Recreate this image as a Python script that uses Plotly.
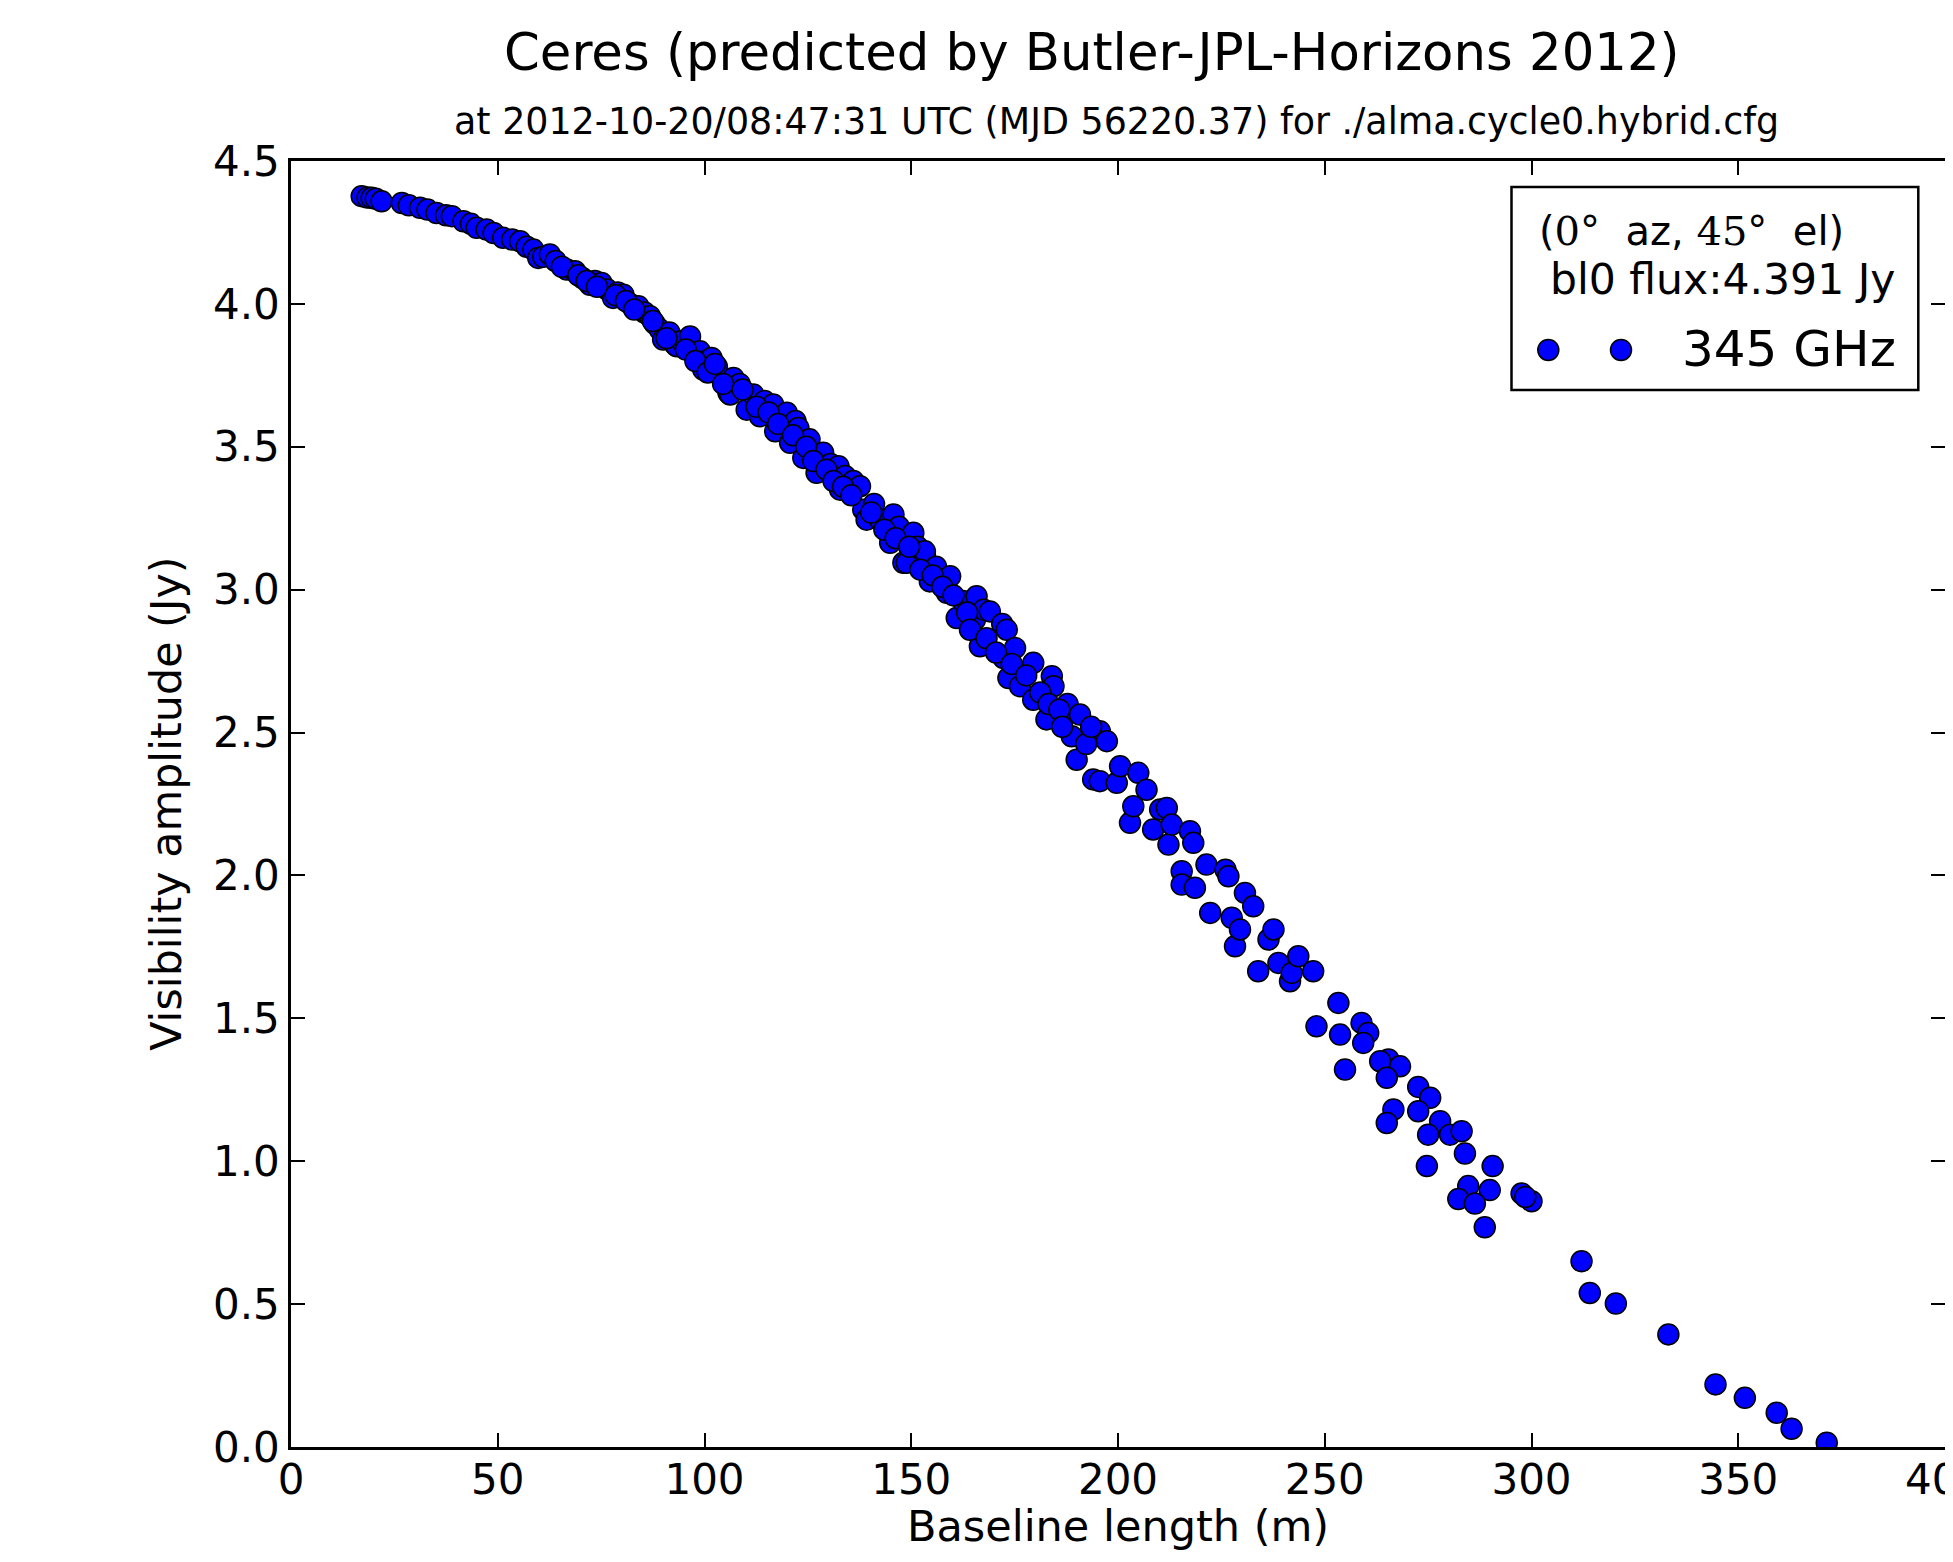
import plotly.graph_objects as go

# Baseline length (m)
baseline_m = [
    17.1, 18.5, 19.5, 20.5, 21.9, 26.8, 28.5, 31.2, 33.0, 35.2, 37.5, 38.9, 41.7, 43.5, 44.9, 47.3,
    49.0, 51.3, 53.5, 55.4, 57.0, 58.6, 59.8, 61.0, 62.6, 66.7, 68.7, 70.5, 72.3, 73.5, 75.1, 76.5,
    77.9, 79.0, 80.4, 82.0, 84.0, 85.5, 86.8, 88.0, 89.2, 90.0, 91.5, 92.9, 93.3, 94.5, 96.5, 97.3,
    98.9, 99.7, 100.5, 101.7, 103.0, 105.8, 106.2, 107.0, 108.5, 110.2, 111.8, 113.4, 114.5, 116.6,
    117.1, 118.5, 119.9, 120.7, 122.0, 122.7, 123.9, 125.4, 127.1, 128.7, 130.5, 132.4, 132.8, 134.0,
    136.0, 137.6, 138.4, 139.2, 141.0, 142.4, 144.9, 145.7, 147.0, 148.1, 148.9, 150.5, 151.5, 153.3,
    153.3, 154.5, 156.0, 158.6, 159.4, 161.0, 162.5, 165.4, 165.8, 166.6, 167.5, 169.0, 172.0, 172.3,
    173.1, 173.5, 175.1, 176.3, 179.5, 179.5, 182.7, 184.0, 184.4, 187.6, 187.8, 188.8, 190.0, 190.8,
    194.0, 195.6, 195.6, 197.3, 199.7, 200.5, 202.9, 203.7, 204.9, 206.9, 208.5, 210.2, 211.8, 212.2,
    213.0, 215.4, 215.4, 217.4, 218.2, 218.6, 221.4, 222.3, 226.0, 226.7, 227.5, 228.3, 229.5, 230.7,
    232.7, 233.9, 236.4, 237.6, 238.8, 241.6, 242.0, 243.6, 247.2, 248.0,
    253.3, 253.7, 258.9, 260.5, 259.3, 254.9, 265.4, 268.2, 263.4, 265.0, 272.6, 275.5, 266.6, 265.0,
    272.6, 277.9, 275.0, 280.3, 283.1, 283.9, 274.7, 290.6, 284.7, 282.3, 289.9, 286.3, 288.7, 297.6,
    300.0, 298.5,
    312.1, 314.1, 320.4, 333.1, 344.5, 351.6, 359.3, 362.9, 371.4,
    # denser band (overlapping baselines)
    64.0, 65.5, 69.5, 71.5, 74.0, 78.5, 81.0, 83.0, 87.5, 90.8, 95.5, 97.8, 100.8, 102.5, 104.5,
    109.2, 112.6, 115.5, 117.8, 121.4, 124.6, 126.3, 129.5, 131.2, 133.5, 135.5, 140.3, 143.5,
    146.2, 149.5, 152.2, 155.2, 157.5, 160.2, 163.5, 164.2, 168.2, 170.5, 174.3, 177.8, 181.2,
    183.2, 185.8, 186.5, 192.3, 193.5,
]

# Visibility amplitude (Jy)
amplitude_jy = [
    4.377, 4.372, 4.371, 4.368, 4.359, 4.353, 4.345, 4.336, 4.330, 4.318, 4.310, 4.307, 4.289, 4.280, 4.266, 4.260,
    4.248, 4.231, 4.225, 4.219, 4.200, 4.190, 4.161, 4.165, 4.173, 4.120, 4.114, 4.090, 4.067, 4.080, 4.073, 4.050,
    4.021, 4.040, 4.032, 4.000, 3.992, 3.970, 3.957, 3.930, 3.910, 3.875, 3.900, 3.857, 3.852, 3.870, 3.886, 3.829,
    3.834, 3.770, 3.800, 3.811, 3.780, 3.689, 3.683, 3.741, 3.720, 3.630, 3.683, 3.607, 3.660, 3.648,
    3.554, 3.600, 3.619, 3.514, 3.590, 3.566, 3.461, 3.526, 3.409, 3.479, 3.440, 3.432, 3.350, 3.398,
    3.380, 3.362, 3.280, 3.245, 3.300, 3.245, 3.164, 3.263, 3.220, 3.094, 3.094, 3.199, 3.150, 3.123,
    3.134, 3.029, 3.080, 2.989, 3.047, 2.901, 2.960, 2.895, 2.977, 2.802, 2.930, 2.924, 2.880, 2.761,
    2.860, 2.691, 2.796, 2.662, 2.744, 2.615, 2.546, 2.697, 2.662, 2.563, 2.600, 2.487, 2.405, 2.563,
    2.336, 2.505, 2.330, 2.470, 2.324, 2.382, 2.184, 2.242, 2.359, 2.300, 2.161, 2.231, 2.236, 2.108,
    2.178, 2.015, 1.968, 2.155, 2.114, 1.957, 2.038, 1.869, 2.020, 1.997, 1.852, 1.752, 1.811, 1.939,
    1.892, 1.665, 1.776, 1.811, 1.694, 1.630, 1.659, 1.717, 1.665, 1.472,
    1.554, 1.443, 1.484, 1.449, 1.414, 1.321, 1.356, 1.332, 1.350, 1.292, 1.260, 1.222, 1.181, 1.134,
    1.175, 1.140, 1.093, 1.093, 1.105, 1.027, 0.983, 0.983, 0.913, 0.868, 0.899, 0.852, 0.769, 0.887,
    0.860, 0.875,
    0.650, 0.539, 0.502, 0.394, 0.219, 0.172, 0.120, 0.064, 0.015,
    4.150, 4.130, 4.100, 4.080, 4.060, 4.030, 4.010, 3.980, 3.940, 3.880, 3.840, 3.800, 3.760, 3.790, 3.720,
    3.700, 3.640, 3.620, 3.580, 3.540, 3.500, 3.450, 3.420, 3.380, 3.360, 3.330, 3.270, 3.210,
    3.180, 3.150, 3.070, 3.050, 3.010, 2.980, 2.920, 2.860, 2.830, 2.780, 2.740, 2.700, 2.640,
    2.600, 2.580, 2.520, 2.460, 2.520,
]

x_ticks = [0, 50, 100, 150, 200, 250, 300, 350, 400]
y_ticks = [0.0, 0.5, 1.0, 1.5, 2.0, 2.5, 3.0, 3.5, 4.0, 4.5]
y_tick_labels = [f"{v:.1f}" for v in y_ticks]

title_text = "Ceres (predicted by Butler-JPL-Horizons 2012)"
subtitle_text = "at 2012-10-20/08:47:31 UTC (MJD 56220.37) for ./alma.cycle0.hybrid.cfg"
x_title = "Baseline length (m)"
y_title = "Visibility amplitude (Jy)"
legend_line1 = ("(<span style='font-family:DejaVu Serif'>0</span>°\u00a0\u00a0az, "
                "<span style='font-family:DejaVu Serif'>45</span>°\u00a0\u00a0el)")
legend_line2 = "bl0 flux:4.391 Jy"
series_name = "345 GHz"

FONT = "DejaVu Sans"
BLUE = "#0000ff"

fig = go.Figure()
fig.add_trace(go.Scatter(
    x=baseline_m, y=amplitude_jy, mode="markers", name=series_name,
    marker=dict(size=21, color=BLUE, line=dict(color="black", width=1.5)),
    showlegend=False,
))

axis_common = dict(
    showgrid=False, zeroline=False, showline=True, linecolor="black", linewidth=2.5,
    mirror="ticks", ticks="inside", ticklen=14, tickwidth=1.5, tickcolor="black",
    tickfont=dict(family=FONT, size=42, color="black"), automargin=False,
)

# page body has an 8px margin: plot area in page pixels is x 291..1945, y 161..1447.5
fig.update_layout(
    width=1945, height=1554,
    margin=dict(l=283, r=8, t=153, b=114.5),
    paper_bgcolor="white", plot_bgcolor="white",
    font=dict(family=FONT, color="black"),
    xaxis=dict(range=[0, 400], tickvals=x_ticks, ticktext=[str(v) for v in x_ticks],
               ticklabelstandoff=-6, ticklabeloverflow="allow", **axis_common),
    yaxis=dict(range=[0, 4.5], tickvals=y_ticks, ticktext=y_tick_labels,
               ticklabelstandoff=0, **axis_common),
    showlegend=False,
)

ann = []
def px_x(px):
    return (px - 291) / 1654.0
def px_y(py):
    return (1447.5 - py) / 1286.5

ann.append(dict(text=title_text, x=px_x(1092), y=px_y(52), xref="paper", yref="paper",
                xanchor="center", yanchor="middle", showarrow=False,
                font=dict(family=FONT, size=51.3, color="black")))
ann.append(dict(text=subtitle_text, x=px_x(1116), y=px_y(121), xref="paper", yref="paper",
                xanchor="center", yanchor="middle", showarrow=False,
                font=dict(family=FONT, size=36.4, color="black")))
ann.append(dict(text=x_title, x=px_x(1118), y=px_y(1527), xref="paper", yref="paper",
                xanchor="center", yanchor="middle", showarrow=False,
                font=dict(family=FONT, size=43, color="black")))
ann.append(dict(text=y_title, x=px_x(166), y=px_y(804), xref="paper", yref="paper",
                xanchor="center", yanchor="middle", showarrow=False, textangle=-90,
                font=dict(family=FONT, size=42.8, color="black")))
# legend texts
ann.append(dict(text=legend_line1, x=px_x(1537), y=px_y(231), xref="paper", yref="paper",
                xanchor="left", yanchor="middle", showarrow=False,
                font=dict(family=FONT, size=40, color="black")))
ann.append(dict(text=legend_line2, x=px_x(1548), y=px_y(280), xref="paper", yref="paper",
                xanchor="left", yanchor="middle", showarrow=False,
                font=dict(family=FONT, size=42.5, color="black")))
ann.append(dict(text=series_name, x=px_x(1680), y=px_y(349), xref="paper", yref="paper",
                xanchor="left", yanchor="middle", showarrow=False,
                font=dict(family=FONT, size=50, color="black")))
fig.update_layout(annotations=ann)

shapes = [dict(type="rect", xref="paper", yref="paper",
               x0=px_x(1511.5), x1=px_x(1918.3), y0=px_y(390), y1=px_y(187),
               line=dict(color="black", width=2.5), fillcolor="white", layer="above")]
for cx in (1548.3, 1621.0):
    shapes.append(dict(type="circle", xref="paper", yref="paper",
                       xsizemode="pixel", ysizemode="pixel",
                       xanchor=px_x(cx), yanchor=px_y(350),
                       x0=-10.5, x1=10.5, y0=-10.5, y1=10.5,
                       line=dict(color="black", width=1.5), fillcolor=BLUE, layer="above"))
fig.update_layout(shapes=shapes)

fig.write_html("out.html")
